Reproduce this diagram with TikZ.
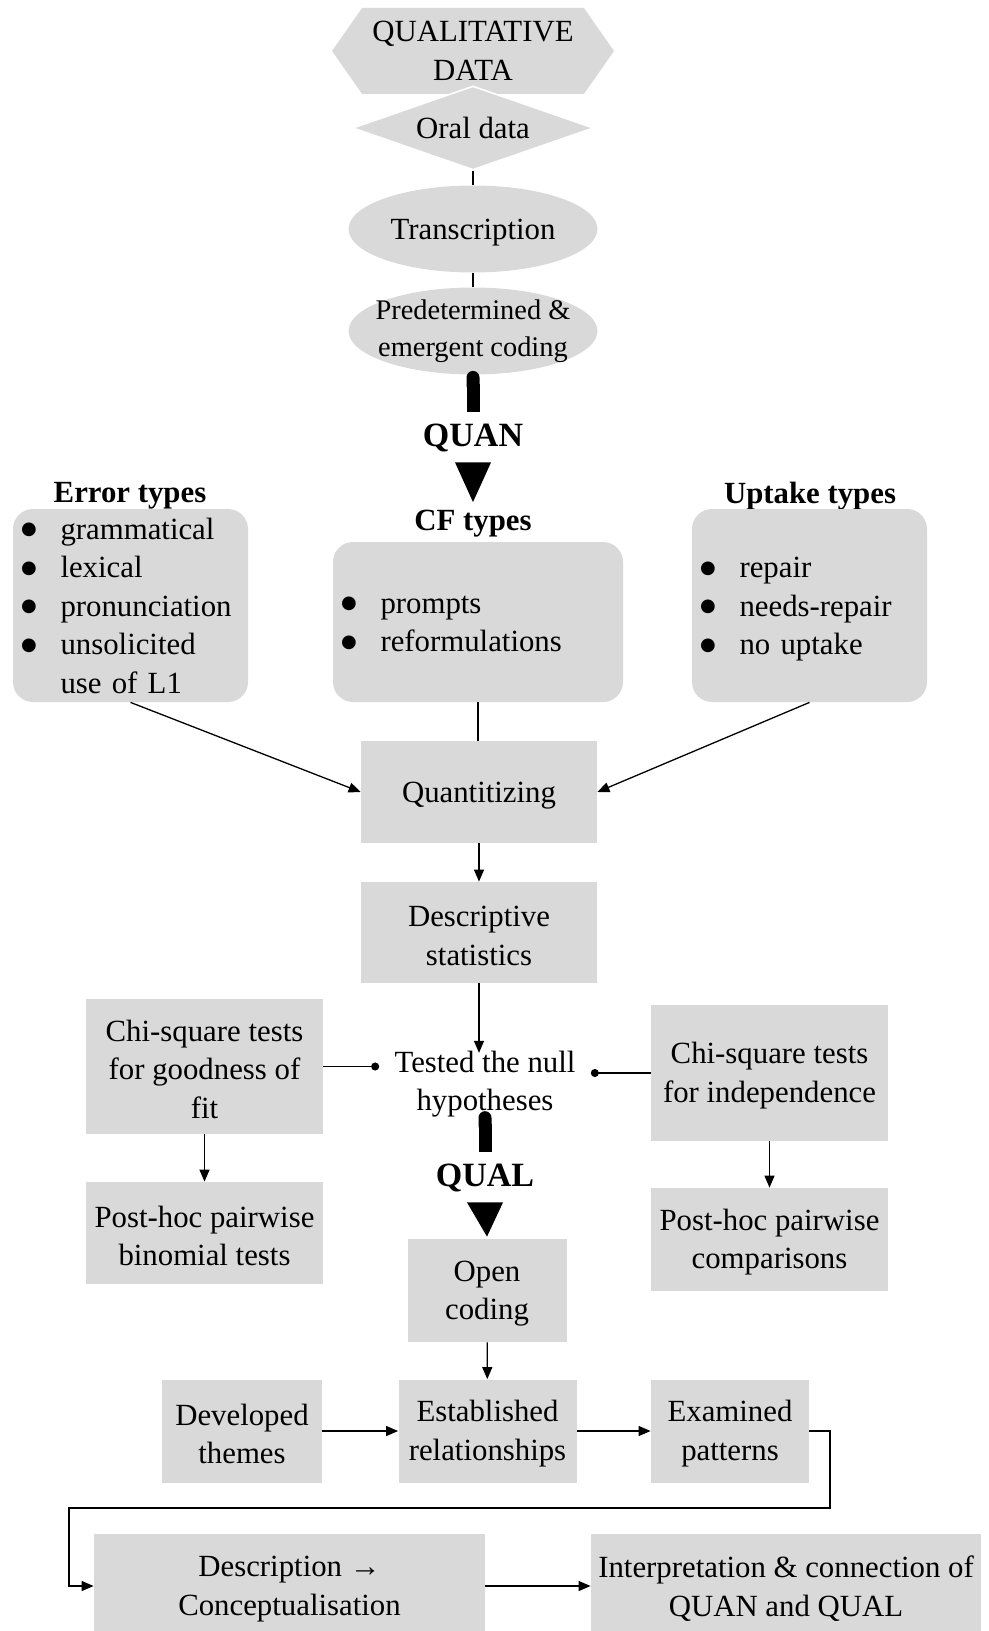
\documentclass[tikz,border=0pt]{standalone}
\usepackage{fontspec}
\setmainfont{Liberation Serif}
\newfontfamily\symfont{DejaVu Sans}
\usepackage{tikz}
\usetikzlibrary{shapes.geometric,shapes.symbols,arrows.meta}
\definecolor{boxgray}{RGB}{217,217,217}
\newcommand{\bodyfont}{\fontsize{15.4}{19.25}\selectfont}
\newcommand{\smallbody}{\fontsize{14.2}{18.5}\selectfont}
\newcommand{\flowfont}{\fontsize{17}{20}\selectfont\bfseries}
\newcommand{\bigdot}{\kern-1.5pt\raisebox{2.3pt}{\fontsize{9}{9}\symfont ●}}
\newcommand{\typelist}[1]{\raisebox{-1.5pt}[\height][\depth]{\begin{tabular}{@{}l@{\hspace{11.9pt}}l@{}}#1\end{tabular}}}
\newcommand{\topstrut}[1]{\rule{0pt}{#1}}
\newcommand{\ustrut}{\rule{0pt}{13.5pt}}

\begin{document}
\begin{tikzpicture}[x=0.5pt,y=-0.5pt,
    every node/.style={font=\bodyfont},
    hexbox/.style={signal,signal to=west and east,signal pointer angle=110,fill=boxgray,
        align=center,inner sep=0pt,minimum width=141pt,minimum height=43pt},
    diabox/.style={diamond,aspect=2.87,fill=boxgray,draw=white,line width=0.8pt,
        inner sep=0pt,minimum width=120.5pt,minimum height=42pt},
    ellbox/.style={ellipse,fill=boxgray,align=center,execute at begin node=\topstrut{14pt},
        inner xsep=-14pt,inner ysep=-10pt,minimum width=124.5pt,minimum height=43.5pt},
    procbox/.style={fill=boxgray,align=center,inner sep=2pt},
    onebox/.style={procbox,execute at begin node=\topstrut{14pt}},
    listbox/.style={fill=boxgray,rounded corners=10pt,align=left,inner xsep=5.5pt,inner ysep=0pt},
    title/.style={font=\bodyfont\bfseries,inner sep=0pt},
    flowlabel/.style={font=\flowfont,inner sep=0pt},
    link/.style={line width=0.65pt},
    flow/.style={link,-{Triangle[length=6pt,width=5pt]}},
    dotlink/.style={link,-{Circle[length=4pt]}},
    shaft/.style={line width=6.5pt,arrows={Round Cap[]-}}]
    \useasboundingbox (0,0) rectangle (989,1631);
    \clip (0,0) rectangle (989,1631);

    % qualitative strand
    \node[hexbox] (qualdata) at (473,51) {QUALITATIVE\\DATA};
    \node[diabox] (oral) at (473,128) {Oral data};
    \node[ellbox] (transc) at (473,229) {Transcription};
    \node[ellbox,font=\smallbody] (coding) at (473,331) {Predetermined \&\\emergent coding};
    \node[flowlabel] (quan) at (473,438) {QUAN};

    % coding categories
    \node[title] (errtitle) at (130,496) {Error types};
    \node[listbox,minimum width=117.5pt,minimum height=96.5pt,text width=106.5pt] (errbox) at (130.5,605.5)
        {\typelist{\bigdot & grammatical\\ \bigdot & lexical\\ \bigdot & pronunciation\\
                   \bigdot & unsolicited\\ & use of L1}};
    \node[title] (cftitle) at (473,524) {CF types};
    \node[listbox,minimum width=145pt,minimum height=80pt,text width=134pt] (cfbox) at (478,622)
        {\typelist{\bigdot & prompts\\ \bigdot & reformulations}};
    \node[title] (uptitle) at (810,496) {Uptake types};
    \node[listbox,minimum width=117.5pt,minimum height=96.5pt,text width=106.5pt] (upbox) at (809.5,605.5)
        {\typelist{\bigdot & repair\\ \bigdot & needs-repair\\ \bigdot & no uptake}};

    % quantitative strand
    \node[onebox,minimum width=118pt,minimum height=51pt] (quant) at (479,792) {Quantitizing};
    \node[procbox,minimum width=118pt,minimum height=50.5pt] (desc) at (479,932.5) {\ustrut Descriptive\\statistics};
    \node[align=center,execute at begin node=\topstrut{14pt},inner xsep=7.5pt,inner ysep=-1.25pt] (tested)
        at (485,1084) {Tested the null\\hypotheses};
    \node[procbox,minimum width=118.5pt,minimum height=67.5pt] (good) at (204.5,1066.5)
        {\ustrut Chi-square tests\\for goodness of\\fit};
    \node[procbox,minimum width=118.5pt,minimum height=68pt] (indep) at (769.5,1073)
        {\ustrut Chi-square tests\\for independence};
    \node[procbox,minimum width=118.5pt,minimum height=51pt] (binom) at (204.5,1233)
        {\ustrut Post-hoc pairwise\\binomial tests};
    \node[procbox,minimum width=118.5pt,minimum height=51.5pt] (compar) at (769.5,1239.5)
        {\ustrut Post-hoc pairwise\\comparisons};
    \node[flowlabel] (qual) at (485,1178) {QUAL};

    % back to qualitative analysis
    \node[procbox,minimum width=79.5pt,minimum height=51.5pt] (open) at (487,1290.5) {\ustrut Open\\coding};
    \node[procbox,minimum width=80pt,minimum height=51.5pt] (devel) at (242,1431) {\ustrut Developed\\themes};
    \node[procbox,minimum width=89pt,minimum height=51.5pt] (estab) at (487.5,1431) {\ustrut Established\\relationships};
    \node[procbox,minimum width=79pt,minimum height=51.5pt] (exam) at (730,1431) {\ustrut Examined\\patterns};
    \node[procbox,minimum width=195.5pt,minimum height=52pt] (descr) at (289.5,1586)
        {\ustrut Description →\\Conceptualisation};
    \node[procbox,minimum width=195pt,minimum height=52pt] (interp) at (786,1586)
        {\ustrut Interpretation \& connection of\\QUAN and QUAL};
    \coordinate (bendr) at (830,1508);
    \coordinate (bendl) at (69,1508);

    \draw[link] (oral.south) -- (transc.north);
    \draw[link] (transc.south) -- (coding.north);
    \draw[shaft] ([yshift=2pt]coding.south) -- ([yshift=6pt]quan.north);
    \fill ([xshift=-9pt,yshift=-5pt]quan.south) -- ([xshift=9pt,yshift=-5pt]quan.south)
        -- ([yshift=4pt]cftitle.north) -- cycle;
    \draw[link] (cfbox.south) -- (cfbox.south |- quant.north);
    \draw[flow] (errbox.south) -- (quant.west);
    \draw[flow] (upbox.south) -- (quant.east);
    \draw[flow] (quant) -- (desc);
    \draw[flow] (desc.south) -- (desc.south |- tested.north);
    \draw[dotlink] (good.east) -- (good.east -| tested.west);
    \draw[dotlink] (indep.west) -- (indep.west -| tested.east);
    \draw[flow] (good) -- (binom);
    \draw[flow] (indep) -- (compar);
    \draw[shaft] ([yshift=2pt]tested.south) -- ([yshift=6pt]qual.north);
    \fill ([xshift=-9pt,yshift=-5pt]qual.south) -- ([xshift=9pt,yshift=-5pt]qual.south)
        -- ([yshift=1pt]open.north) -- cycle;
    \draw[flow] (open) -- (estab);
    \draw[flow] (devel) -- (estab);
    \draw[flow] (estab) -- (exam);
    \draw[flow] (exam.east) -| (bendr) -- (bendl) |- (descr.west);
    \draw[flow] (descr) -- (interp);
\end{tikzpicture}
\end{document}
